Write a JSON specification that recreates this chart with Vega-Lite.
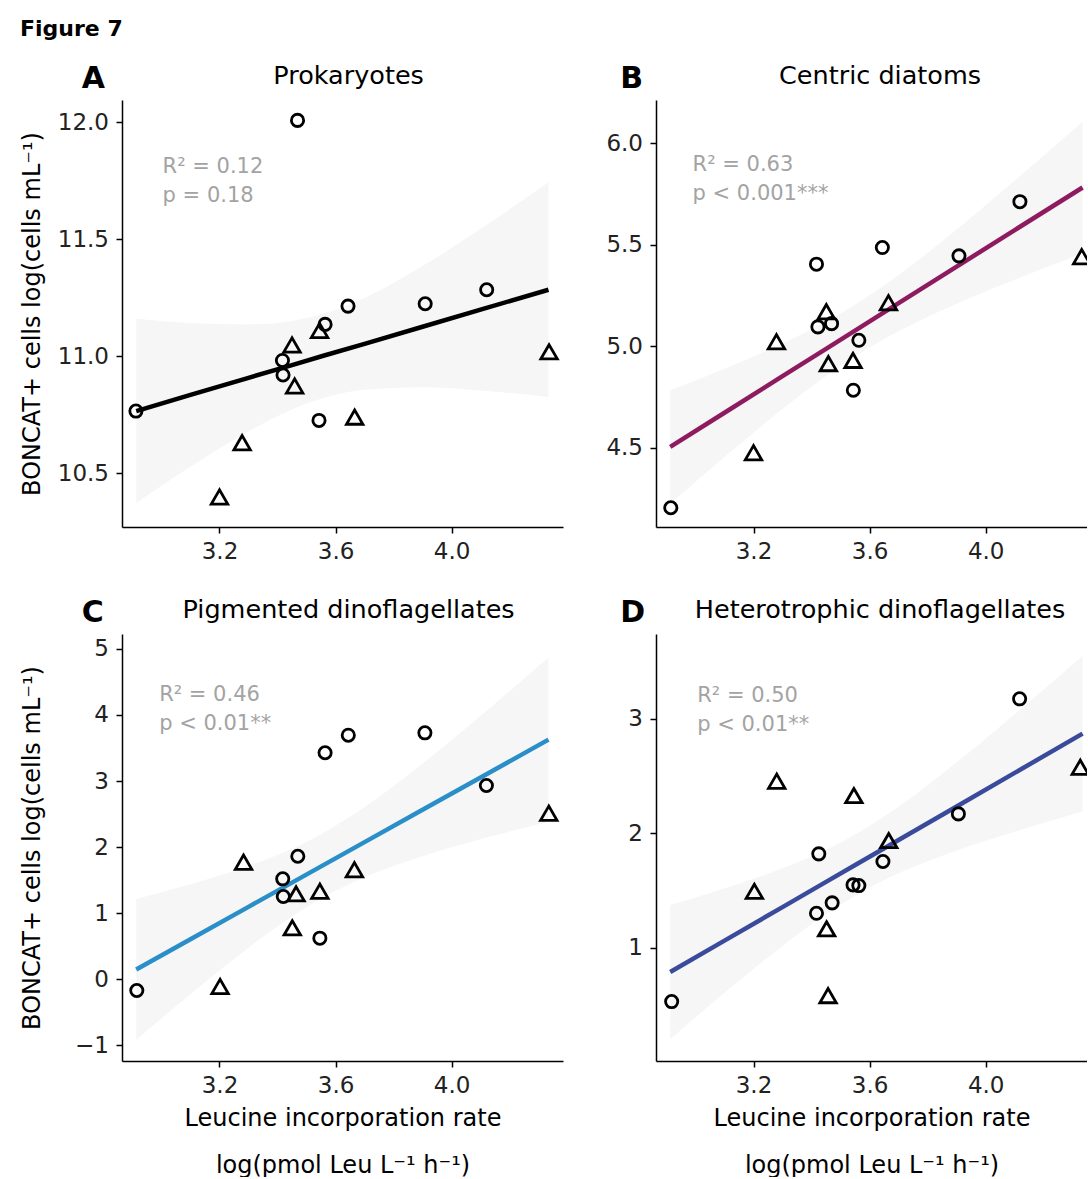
{
  "$schema": "https://vega.github.io/schema/vega-lite/v6.json",
  "autosize": {"type": "pad"},
  "padding": {"left": 20, "top": 18, "right": 0, "bottom": 0},
  "background": "white",
  "title": {"text": "Figure 7", "anchor": "start", "frame": "bounds", "fontSize": 22, "fontWeight": "bold", "color": "#000", "offset": 23},
  "bounds": "flush",
  "columns": 2,
  "spacing": {"row": 107, "column": 93},
  "datasets": {
    "pts": [
      {"panel": "A", "group": "G1", "x": 2.912, "y": 10.766},
      {"panel": "A", "group": "G1", "x": 3.469, "y": 12.007},
      {"panel": "A", "group": "G1", "x": 3.417, "y": 10.982},
      {"panel": "A", "group": "G1", "x": 3.419, "y": 10.920},
      {"panel": "A", "group": "G1", "x": 3.564, "y": 11.136},
      {"panel": "A", "group": "G1", "x": 3.543, "y": 10.726},
      {"panel": "A", "group": "G1", "x": 3.643, "y": 11.214},
      {"panel": "A", "group": "G1", "x": 3.909, "y": 11.224},
      {"panel": "A", "group": "G1", "x": 4.121, "y": 11.284},
      {"panel": "A", "group": "G2", "x": 3.200, "y": 10.399},
      {"panel": "A", "group": "G2", "x": 3.278, "y": 10.631},
      {"panel": "A", "group": "G2", "x": 3.450, "y": 11.048},
      {"panel": "A", "group": "G2", "x": 3.459, "y": 10.873},
      {"panel": "A", "group": "G2", "x": 3.545, "y": 11.110},
      {"panel": "A", "group": "G2", "x": 3.666, "y": 10.740},
      {"panel": "A", "group": "G2", "x": 4.336, "y": 11.019},
      {"panel": "B", "group": "G1", "x": 2.915, "y": 4.204},
      {"panel": "B", "group": "G1", "x": 3.417, "y": 5.404},
      {"panel": "B", "group": "G1", "x": 3.422, "y": 5.095},
      {"panel": "B", "group": "G1", "x": 3.469, "y": 5.111},
      {"panel": "B", "group": "G1", "x": 3.563, "y": 5.029},
      {"panel": "B", "group": "G1", "x": 3.544, "y": 4.783},
      {"panel": "B", "group": "G1", "x": 3.644, "y": 5.486},
      {"panel": "B", "group": "G1", "x": 3.908, "y": 5.445},
      {"panel": "B", "group": "G1", "x": 4.118, "y": 5.712},
      {"panel": "B", "group": "G2", "x": 3.200, "y": 4.475},
      {"panel": "B", "group": "G2", "x": 3.279, "y": 5.022},
      {"panel": "B", "group": "G2", "x": 3.451, "y": 5.170},
      {"panel": "B", "group": "G2", "x": 3.458, "y": 4.914},
      {"panel": "B", "group": "G2", "x": 3.543, "y": 4.930},
      {"panel": "B", "group": "G2", "x": 3.665, "y": 5.214},
      {"panel": "B", "group": "G2", "x": 4.331, "y": 5.441},
      {"panel": "C", "group": "G1", "x": 2.915, "y": -0.169},
      {"panel": "C", "group": "G1", "x": 3.564, "y": 3.427},
      {"panel": "C", "group": "G1", "x": 3.644, "y": 3.693},
      {"panel": "C", "group": "G1", "x": 3.908, "y": 3.729},
      {"panel": "C", "group": "G1", "x": 4.120, "y": 2.932},
      {"panel": "C", "group": "G1", "x": 3.470, "y": 1.862},
      {"panel": "C", "group": "G1", "x": 3.418, "y": 1.520},
      {"panel": "C", "group": "G1", "x": 3.420, "y": 1.253},
      {"panel": "C", "group": "G1", "x": 3.546, "y": 0.622},
      {"panel": "C", "group": "G2", "x": 3.202, "y": -0.109},
      {"panel": "C", "group": "G2", "x": 3.283, "y": 1.772},
      {"panel": "C", "group": "G2", "x": 3.464, "y": 1.293},
      {"panel": "C", "group": "G2", "x": 3.451, "y": 0.779},
      {"panel": "C", "group": "G2", "x": 3.546, "y": 1.333},
      {"panel": "C", "group": "G2", "x": 3.665, "y": 1.657},
      {"panel": "C", "group": "G2", "x": 4.335, "y": 2.513},
      {"panel": "D", "group": "G1", "x": 2.918, "y": 0.531},
      {"panel": "D", "group": "G1", "x": 4.117, "y": 3.175},
      {"panel": "D", "group": "G1", "x": 3.906, "y": 2.170},
      {"panel": "D", "group": "G1", "x": 3.425, "y": 1.821},
      {"panel": "D", "group": "G1", "x": 3.646, "y": 1.754},
      {"panel": "D", "group": "G1", "x": 3.543, "y": 1.550},
      {"panel": "D", "group": "G1", "x": 3.563, "y": 1.544},
      {"panel": "D", "group": "G1", "x": 3.471, "y": 1.393},
      {"panel": "D", "group": "G1", "x": 3.417, "y": 1.302},
      {"panel": "D", "group": "G2", "x": 3.203, "y": 1.494},
      {"panel": "D", "group": "G2", "x": 3.280, "y": 2.455},
      {"panel": "D", "group": "G2", "x": 3.546, "y": 2.330},
      {"panel": "D", "group": "G2", "x": 3.666, "y": 1.937},
      {"panel": "D", "group": "G2", "x": 3.452, "y": 1.166},
      {"panel": "D", "group": "G2", "x": 3.457, "y": 0.583},
      {"panel": "D", "group": "G2", "x": 4.326, "y": 2.577}
    ],
    "fit": [
      {"panel": "A", "x": 2.913, "fit": 10.766, "lo": 10.373, "hi": 11.160},
      {"panel": "A", "x": 3.1, "fit": 10.835, "lo": 10.528, "hi": 11.142},
      {"panel": "A", "x": 3.3, "fit": 10.908, "lo": 10.679, "hi": 11.136},
      {"panel": "A", "x": 3.45, "fit": 10.962, "lo": 10.773, "hi": 11.151},
      {"panel": "A", "x": 3.558, "fit": 11.002, "lo": 10.822, "hi": 11.182},
      {"panel": "A", "x": 3.7, "fit": 11.053, "lo": 10.857, "hi": 11.249},
      {"panel": "A", "x": 3.9, "fit": 11.126, "lo": 10.868, "hi": 11.385},
      {"panel": "A", "x": 4.1, "fit": 11.199, "lo": 10.854, "hi": 11.544},
      {"panel": "A", "x": 4.334, "fit": 11.284, "lo": 10.826, "hi": 11.743},
      {"panel": "B", "x": 2.913, "fit": 4.504, "lo": 4.224, "hi": 4.783},
      {"panel": "B", "x": 3.1, "fit": 4.672, "lo": 4.454, "hi": 4.889},
      {"panel": "B", "x": 3.3, "fit": 4.852, "lo": 4.690, "hi": 5.013},
      {"panel": "B", "x": 3.45, "fit": 4.987, "lo": 4.853, "hi": 5.121},
      {"panel": "B", "x": 3.558, "fit": 5.084, "lo": 4.957, "hi": 5.212},
      {"panel": "B", "x": 3.7, "fit": 5.212, "lo": 5.073, "hi": 5.351},
      {"panel": "B", "x": 3.9, "fit": 5.392, "lo": 5.209, "hi": 5.575},
      {"panel": "B", "x": 4.1, "fit": 5.572, "lo": 5.327, "hi": 5.816},
      {"panel": "B", "x": 4.334, "fit": 5.782, "lo": 5.458, "hi": 6.107},
      {"panel": "C", "x": 2.913, "fit": 0.149, "lo": -0.918, "hi": 1.216},
      {"panel": "C", "x": 3.1, "fit": 0.606, "lo": -0.225, "hi": 1.438},
      {"panel": "C", "x": 3.3, "fit": 1.096, "lo": 0.478, "hi": 1.714},
      {"panel": "C", "x": 3.45, "fit": 1.463, "lo": 0.950, "hi": 1.975},
      {"panel": "C", "x": 3.558, "fit": 1.727, "lo": 1.240, "hi": 2.215},
      {"panel": "C", "x": 3.7, "fit": 2.075, "lo": 1.544, "hi": 2.605},
      {"panel": "C", "x": 3.9, "fit": 2.564, "lo": 1.863, "hi": 3.265},
      {"panel": "C", "x": 4.1, "fit": 3.053, "lo": 2.119, "hi": 3.988},
      {"panel": "C", "x": 4.334, "fit": 3.626, "lo": 2.385, "hi": 4.867},
      {"panel": "D", "x": 2.913, "fit": 0.789, "lo": 0.204, "hi": 1.375},
      {"panel": "D", "x": 3.1, "fit": 1.063, "lo": 0.607, "hi": 1.519},
      {"panel": "D", "x": 3.3, "fit": 1.356, "lo": 1.017, "hi": 1.695},
      {"panel": "D", "x": 3.45, "fit": 1.576, "lo": 1.295, "hi": 1.857},
      {"panel": "D", "x": 3.558, "fit": 1.734, "lo": 1.467, "hi": 2.002},
      {"panel": "D", "x": 3.7, "fit": 1.942, "lo": 1.651, "hi": 2.233},
      {"panel": "D", "x": 3.9, "fit": 2.235, "lo": 1.851, "hi": 2.620},
      {"panel": "D", "x": 4.1, "fit": 2.528, "lo": 2.015, "hi": 3.041},
      {"panel": "D", "x": 4.334, "fit": 2.871, "lo": 2.190, "hi": 3.552}
    ],
    "notes": [
      {"panel": "A", "letter": "A", "name": "Prokaryotes", "stat": "R² = 0.12\np = 0.18"},
      {"panel": "B", "letter": "B", "name": "Centric diatoms", "stat": "R² = 0.63\np < 0.001***"},
      {"panel": "C", "letter": "C", "name": "Pigmented dinoflagellates", "stat": "R² = 0.46\np < 0.01**"},
      {"panel": "D", "letter": "D", "name": "Heterotrophic dinoflagellates", "stat": "R² = 0.50\np < 0.01**"}
    ]
  },
  "concat": [
    {
      "width": 441, "height": 427,
      "layer": [
        {"data": {"name": "fit"}, "transform": [{"filter": "datum.panel === 'A'"}],
         "mark": {"type": "area", "color": "#f6f6f6", "interpolate": "monotone", "clip": true},
         "encoding": {
           "x": {"field": "x", "type": "quantitative", "scale": {"domain": [2.864, 4.384], "nice": false, "zero": false}, "axis": {"values": [3.2, 3.6, 4.0], "format": ".1f", "title": null}},
           "y": {"field": "lo", "type": "quantitative", "scale": {"domain": [10.271, 12.094], "nice": false, "zero": false}, "axis": {"values": [10.5, 11, 11.5, 12], "format": ".1f", "title": "BONCAT+ cells log(cells mL⁻¹)", "minExtent": 66, "maxExtent": 66, "titlePadding": 12}},
           "y2": {"field": "hi"}
         }},
        {"data": {"name": "fit"}, "transform": [{"filter": "datum.panel === 'A'"}],
         "mark": {"type": "line", "color": "#000000", "strokeWidth": 4.5, "clip": true},
         "encoding": {"x": {"field": "x", "type": "quantitative"}, "y": {"field": "fit", "type": "quantitative"}}},
        {"data": {"name": "pts"}, "transform": [{"filter": "datum.panel === 'A'"}],
         "mark": {"type": "point", "filled": false, "color": "#000", "strokeWidth": 2.8, "opacity": 1, "clip": true},
         "encoding": {"x": {"field": "x", "type": "quantitative"}, "y": {"field": "y", "type": "quantitative"},
           "shape": {"field": "group", "type": "nominal", "scale": {"domain": ["G1", "G2"], "range": ["circle", "triangle-up"]}, "legend": null},
           "size": {"field": "group", "type": "nominal", "scale": {"domain": ["G1", "G2"], "range": [150, 270]}, "legend": null}}},
        {"data": {"name": "notes"}, "transform": [{"filter": "datum.panel === 'A'"}],
         "mark": {"type": "text", "align": "left", "baseline": "alphabetic", "fontSize": 21, "color": "#a3a3a3", "lineBreak": "\n", "lineHeight": 29},
         "encoding": {"text": {"field": "stat"}, "x": {"datum": 3.004}, "y": {"datum": 11.784}}},
        {"data": {"name": "notes"}, "transform": [{"filter": "datum.panel === 'A'"}],
         "mark": {"type": "text", "align": "left", "baseline": "alphabetic", "fontSize": 30, "fontWeight": "bold", "color": "#000"},
         "encoding": {"text": {"field": "letter"}, "x": {"datum": 2.725}, "y": {"datum": 12.144}}},
        {"data": {"name": "notes"}, "transform": [{"filter": "datum.panel === 'A'"}],
         "mark": {"type": "text", "align": "center", "baseline": "alphabetic", "fontSize": 25.5, "color": "#000"},
         "encoding": {"text": {"field": "name"}, "x": {"datum": 3.645}, "y": {"datum": 12.161}}}
      ]
    },
    {
      "width": 431, "height": 427,
      "layer": [
        {"data": {"name": "fit"}, "transform": [{"filter": "datum.panel === 'B'"}],
         "mark": {"type": "area", "color": "#f6f6f6", "interpolate": "monotone", "clip": true},
         "encoding": {
           "x": {"field": "x", "type": "quantitative", "scale": {"domain": [2.864, 4.3492], "nice": false, "zero": false}, "axis": {"values": [3.2, 3.6, 4.0], "format": ".1f", "title": null}},
           "y": {"field": "lo", "type": "quantitative", "scale": {"domain": [4.109, 6.213], "nice": false, "zero": false}, "axis": {"values": [4.5, 5, 5.5, 6], "format": ".1f", "title": null}},
           "y2": {"field": "hi"}
         }},
        {"data": {"name": "fit"}, "transform": [{"filter": "datum.panel === 'B'"}],
         "mark": {"type": "line", "color": "#8e1b5f", "strokeWidth": 4.5, "clip": true},
         "encoding": {"x": {"field": "x", "type": "quantitative"}, "y": {"field": "fit", "type": "quantitative"}}},
        {"data": {"name": "pts"}, "transform": [{"filter": "datum.panel === 'B'"}],
         "mark": {"type": "point", "filled": false, "color": "#000", "strokeWidth": 2.8, "opacity": 1, "clip": true},
         "encoding": {"x": {"field": "x", "type": "quantitative"}, "y": {"field": "y", "type": "quantitative"},
           "shape": {"field": "group", "type": "nominal", "scale": {"domain": ["G1", "G2"], "range": ["circle", "triangle-up"]}, "legend": null},
           "size": {"field": "group", "type": "nominal", "scale": {"domain": ["G1", "G2"], "range": [150, 270]}, "legend": null}}},
        {"data": {"name": "notes"}, "transform": [{"filter": "datum.panel === 'B'"}],
         "mark": {"type": "text", "align": "left", "baseline": "alphabetic", "fontSize": 21, "color": "#a3a3a3", "lineBreak": "\n", "lineHeight": 29},
         "encoding": {"text": {"field": "stat"}, "x": {"datum": 2.990}, "y": {"datum": 5.863}}},
        {"data": {"name": "notes"}, "transform": [{"filter": "datum.panel === 'B'"}],
         "mark": {"type": "text", "align": "left", "baseline": "alphabetic", "fontSize": 30, "fontWeight": "bold", "color": "#000"},
         "encoding": {"text": {"field": "letter"}, "x": {"datum": 2.741}, "y": {"datum": 6.271}}},
        {"data": {"name": "notes"}, "transform": [{"filter": "datum.panel === 'B'"}],
         "mark": {"type": "text", "align": "center", "baseline": "alphabetic", "fontSize": 25.5, "color": "#000"},
         "encoding": {"text": {"field": "name"}, "x": {"datum": 3.636}, "y": {"datum": 6.290}}}
      ]
    },
    {
      "width": 441, "height": 427,
      "layer": [
        {"data": {"name": "fit"}, "transform": [{"filter": "datum.panel === 'C'"}],
         "mark": {"type": "area", "color": "#f6f6f6", "interpolate": "monotone", "clip": true},
         "encoding": {
           "x": {"field": "x", "type": "quantitative", "scale": {"domain": [2.864, 4.384], "nice": false, "zero": false}, "axis": {"values": [3.2, 3.6, 4.0], "format": ".1f", "title": ["Leucine incorporation rate", "log(pmol Leu L⁻¹ h⁻¹)"], "titleLineHeight": 47, "titlePadding": 8, "minExtent": 37, "maxExtent": 37}},
           "y": {"field": "lo", "type": "quantitative", "scale": {"domain": [-1.236, 5.224], "nice": false, "zero": false}, "axis": {"values": [-1, 0, 1, 2, 3, 4, 5], "format": "d", "title": "BONCAT+ cells log(cells mL⁻¹)", "minExtent": 66, "maxExtent": 66, "titlePadding": 12}},
           "y2": {"field": "hi"}
         }},
        {"data": {"name": "fit"}, "transform": [{"filter": "datum.panel === 'C'"}],
         "mark": {"type": "line", "color": "#2a8fc8", "strokeWidth": 4.5, "clip": true},
         "encoding": {"x": {"field": "x", "type": "quantitative"}, "y": {"field": "fit", "type": "quantitative"}}},
        {"data": {"name": "pts"}, "transform": [{"filter": "datum.panel === 'C'"}],
         "mark": {"type": "point", "filled": false, "color": "#000", "strokeWidth": 2.8, "opacity": 1, "clip": true},
         "encoding": {"x": {"field": "x", "type": "quantitative"}, "y": {"field": "y", "type": "quantitative"},
           "shape": {"field": "group", "type": "nominal", "scale": {"domain": ["G1", "G2"], "range": ["circle", "triangle-up"]}, "legend": null},
           "size": {"field": "group", "type": "nominal", "scale": {"domain": ["G1", "G2"], "range": [150, 270]}, "legend": null}}},
        {"data": {"name": "notes"}, "transform": [{"filter": "datum.panel === 'C'"}],
         "mark": {"type": "text", "align": "left", "baseline": "alphabetic", "fontSize": 21, "color": "#a3a3a3", "lineBreak": "\n", "lineHeight": 29},
         "encoding": {"text": {"field": "stat"}, "x": {"datum": 2.992}, "y": {"datum": 4.203}}},
        {"data": {"name": "notes"}, "transform": [{"filter": "datum.panel === 'C'"}],
         "mark": {"type": "text", "align": "left", "baseline": "alphabetic", "fontSize": 30, "fontWeight": "bold", "color": "#000"},
         "encoding": {"text": {"field": "letter"}, "x": {"datum": 2.725}, "y": {"datum": 5.401}}},
        {"data": {"name": "notes"}, "transform": [{"filter": "datum.panel === 'C'"}],
         "mark": {"type": "text", "align": "center", "baseline": "alphabetic", "fontSize": 25.5, "color": "#000"},
         "encoding": {"text": {"field": "name"}, "x": {"datum": 3.645}, "y": {"datum": 5.4615}}}
      ]
    },
    {
      "width": 431, "height": 427,
      "layer": [
        {"data": {"name": "fit"}, "transform": [{"filter": "datum.panel === 'D'"}],
         "mark": {"type": "area", "color": "#f6f6f6", "interpolate": "monotone", "clip": true},
         "encoding": {
           "x": {"field": "x", "type": "quantitative", "scale": {"domain": [2.864, 4.3492], "nice": false, "zero": false}, "axis": {"values": [3.2, 3.6, 4.0], "format": ".1f", "title": ["Leucine incorporation rate", "log(pmol Leu L⁻¹ h⁻¹)"], "titleLineHeight": 47, "titlePadding": 8, "minExtent": 37, "maxExtent": 37}},
           "y": {"field": "lo", "type": "quantitative", "scale": {"domain": [0.012, 3.741], "nice": false, "zero": false}, "axis": {"values": [1, 2, 3], "format": "d", "title": null}},
           "y2": {"field": "hi"}
         }},
        {"data": {"name": "fit"}, "transform": [{"filter": "datum.panel === 'D'"}],
         "mark": {"type": "line", "color": "#3a4b9b", "strokeWidth": 4.5, "clip": true},
         "encoding": {"x": {"field": "x", "type": "quantitative"}, "y": {"field": "fit", "type": "quantitative"}}},
        {"data": {"name": "pts"}, "transform": [{"filter": "datum.panel === 'D'"}],
         "mark": {"type": "point", "filled": false, "color": "#000", "strokeWidth": 2.8, "opacity": 1, "clip": true},
         "encoding": {"x": {"field": "x", "type": "quantitative"}, "y": {"field": "y", "type": "quantitative"},
           "shape": {"field": "group", "type": "nominal", "scale": {"domain": ["G1", "G2"], "range": ["circle", "triangle-up"]}, "legend": null},
           "size": {"field": "group", "type": "nominal", "scale": {"domain": ["G1", "G2"], "range": [150, 270]}, "legend": null}}},
        {"data": {"name": "notes"}, "transform": [{"filter": "datum.panel === 'D'"}],
         "mark": {"type": "text", "align": "left", "baseline": "alphabetic", "fontSize": 21, "color": "#a3a3a3", "lineBreak": "\n", "lineHeight": 29},
         "encoding": {"text": {"field": "stat"}, "x": {"datum": 3.006}, "y": {"datum": 3.151}}},
        {"data": {"name": "notes"}, "transform": [{"filter": "datum.panel === 'D'"}],
         "mark": {"type": "text", "align": "left", "baseline": "alphabetic", "fontSize": 30, "fontWeight": "bold", "color": "#000"},
         "encoding": {"text": {"field": "letter"}, "x": {"datum": 2.741}, "y": {"datum": 3.843}}},
        {"data": {"name": "notes"}, "transform": [{"filter": "datum.panel === 'D'"}],
         "mark": {"type": "text", "align": "center", "baseline": "alphabetic", "fontSize": 25.5, "color": "#000"},
         "encoding": {"text": {"field": "name"}, "x": {"datum": 3.636}, "y": {"datum": 3.878}}}
      ]
    }
  ],
  "config": {
    "font": "DejaVu Sans",
    "view": {"stroke": null},
    "axis": {"grid": false, "domainColor": "#000", "domainWidth": 1.5, "tickColor": "#000", "tickWidth": 1.5, "tickSize": 6, "labelFontSize": 23, "labelColor": "#222", "labelPadding": 7.5, "titleFontSize": 24, "titleFontWeight": "normal", "titleColor": "#000", "labelFont": "DejaVu Sans", "titleFont": "DejaVu Sans"},
    "title": {"font": "DejaVu Sans"},
    "text": {"font": "DejaVu Sans"}
  }
}
